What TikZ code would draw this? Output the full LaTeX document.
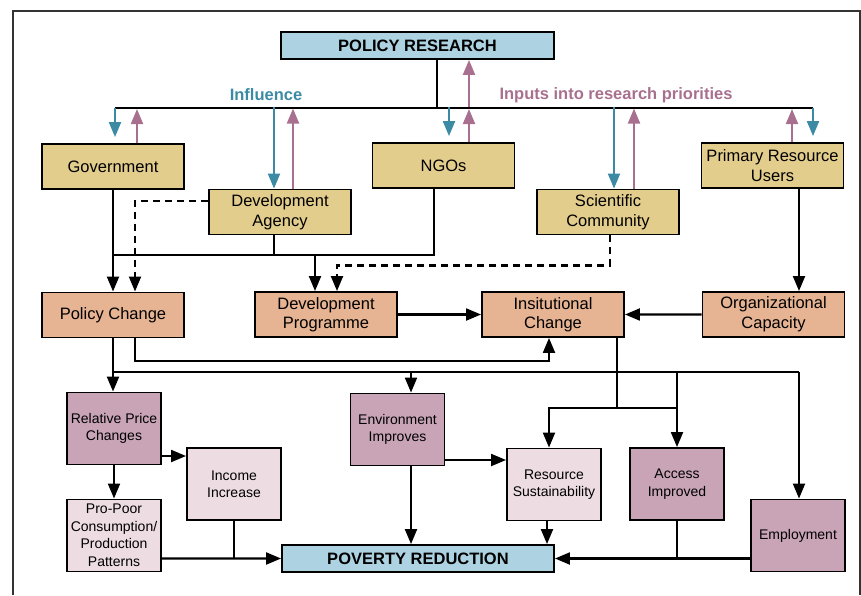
\documentclass[tikz,border=0pt]{standalone}
\usepackage{fontspec}
\setmainfont{Liberation Sans}
\usepackage{tikz}
\usetikzlibrary{arrows.meta,calc}
\definecolor{goalfill}{HTML}{ADD3E2}
\definecolor{actorfill}{HTML}{E3CD8C}
\definecolor{changefill}{HTML}{E6B393}
\definecolor{impactfill}{HTML}{C8A4B6}
\definecolor{outcomefill}{HTML}{EDDDE3}
\definecolor{inflcolor}{HTML}{3C8AA3}
\definecolor{inpcolor}{HTML}{A8708E}
\tikzstyle{actor} = [rectangle, draw, fill=actorfill, text centered, align=center, line width=1.9pt, minimum width=142pt, minimum height=45pt, font=\fontsize{16.5}{19.5}\selectfont]
\tikzstyle{change} = [actor, fill=changefill]
\tikzstyle{impact} = [rectangle, draw, fill=impactfill, text centered, align=center, line width=1.9pt, minimum width=94pt, minimum height=72pt, inner sep=1pt, font=\fontsize{14}{17.5}\selectfont]
\tikzstyle{outcome} = [impact, fill=outcomefill]
\tikzstyle{goal} = [rectangle, draw, fill=goalfill, text centered, line width=1.9pt, minimum width=273pt, minimum height=27pt, font=\fontsize{16.5}{19}\selectfont\bfseries]
\tikzstyle{heading} = [font=\fontsize{16.5}{19}\selectfont\bfseries]
\tikzstyle{link} = [line width=2.1pt]
\tikzstyle{connector} = [line width=2.1pt, -{Triangle[length=15pt,width=12pt]}]
\tikzstyle{maybe} = [connector, dash pattern=on 7pt off 5pt]
\tikzstyle{influence} = [connector, draw=inflcolor, fill=inflcolor]
\tikzstyle{inputs} = [connector, draw=inpcolor, fill=inpcolor]

\begin{document}
\begin{tikzpicture}[x=1pt, y=-1pt]
        \useasboundingbox (0,0) rectangle (861,595);
        \draw [line width=1.9pt, draw=black!80] (13,595) -- (13,11) -- (860,11) -- (860,595);

        \node (res) [goal] at (417.5,45.5) {POLICY RESEARCH};
        \node (gov) [actor] at (113,166.5) {Government};
        \node (agency) [actor] at (280,212) {Development\\Agency};
        \node (ngo) [actor] at (443.5,165.5) {NGOs};
        \node (sci) [actor] at (608,212) {Scientific\\Community};
        \node (users) [actor] at (772.5,165.5) {Primary Resource\\Users};
        \node (lblinfl) [heading, text=inflcolor] at (266,95) {Influence};
        \node (lblinp) [heading, text=inpcolor] at (616,95) {Inputs into research priorities};

        \node (polchg) [change, below of = gov, yshift=-120pt] {Policy Change};
        \node (devprog) [change] at (326,314.5) {Development\\Programme};
        \node (inst) [change] at (553,314.5) {Insitutional\\Change};
        \node (orgcap) [change, below of = users, yshift=-120.5pt, xshift=1pt] {Organizational\\Capacity};

        \node (price) [impact] at (114,428.5) {Relative Price\\Changes};
        \node (propoor) [outcome, below of = price, yshift=-78.5pt] {Pro-Poor\\Consumption/\\Production\\Patterns};
        \node (income) [outcome] at (234,484) {Income\\Increase};
        \node (env) [impact] at (397.5,429.5) {Environment\\Improves};
        \node (resource) [outcome] at (554,484.5) {Resource\\Sustainability};
        \node (access) [impact] at (677,484) {Access\\Improved};
        \node (employ) [impact] at (798,535.5) {Employment};
        \node (poverty) [goal, minimum width=272pt] at (418,558.5) {POVERTY REDUCTION};

        \coordinate (hub) at (437,108);
        \coordinate (barL) at (115,108);
        \coordinate (barR) at (813,108);
        \draw [link] ([xshift=19.5pt]res.south) -- (hub);
        \draw [link] (barL) -- (barR);
        \draw [influence] (barL) -- ([xshift=2pt,yshift=6pt]gov.north);
        \draw [inputs] ([xshift=24pt]gov.north) -- ([xshift=24pt,yshift=34pt]gov.north);
        \draw [influence] ([xshift=-6pt,yshift=82pt]agency.north) -- ([xshift=-6pt]agency.north);
        \draw [inputs] ([xshift=13pt]agency.north) -- ([xshift=13pt,yshift=80pt]agency.north);
        \draw [influence] ([xshift=5.5pt,yshift=35pt]ngo.north) -- ([xshift=5.5pt,yshift=6pt]ngo.north);
        \draw [inputs] ([xshift=25.5pt]ngo.north) -- ([xshift=25.5pt,yshift=33pt]ngo.north);
        \draw [inputs] ([xshift=25.5pt,yshift=35pt]ngo.north) -- ([xshift=51.5pt]res.south);
        \draw [influence] ([xshift=6pt,yshift=82pt]sci.north) -- ([xshift=6pt]sci.north);
        \draw [inputs] ([xshift=26pt]sci.north) -- ([xshift=26pt,yshift=80pt]sci.north);
        \draw [inputs] ([xshift=19.5pt]users.north) -- ([xshift=19.5pt,yshift=33pt]users.north);
        \draw [influence] (barR) -- ([xshift=40.5pt,yshift=6pt]users.north);

        \coordinate (fork) at (113,255);
        \draw [connector] (gov.south) -- (polchg.north);
        \draw [link] ([xshift=-6pt]agency.south) -- ++(0,21);
        \draw [link] ([xshift=-9.5pt]ngo.south) |- (fork);
        \draw [connector] ([xshift=-11pt,yshift=37pt]devprog.north) -- ([xshift=-11pt]devprog.north);
        \draw [maybe] ([yshift=11pt]agency.west) -| ([xshift=22pt]polchg.north);
        \draw [maybe] ([xshift=2pt]sci.south) -- ++(0,30) -| ([xshift=11pt]devprog.north);
        \draw [connector] (devprog.east) -- (inst.west);
        \draw [connector] (orgcap.west) -- (inst.east);
        \draw [connector] ([xshift=26.5pt]users.south) -- ([xshift=25.5pt]orgcap.north);
        \draw [connector] ([xshift=22pt]polchg.south) -- ++(0,23) -| ([xshift=-4pt]inst.south);

        \coordinate (spread) at (799,372);
        \coordinate (merge) at (617,408);
        \draw [link] (polchg.south |- spread) -- (spread);
        \draw [connector] (polchg.south) -- (polchg.south |- price.north);
        \draw [connector] ([xshift=13.5pt,yshift=21pt]env.north) -- ([xshift=13.5pt]env.north);
        \draw [connector] (spread) -- (spread |- employ.north);
        \draw [connector] (access.north |- spread) -- (access.north);
        \draw [link] ([xshift=64pt]inst.south) -- (merge);
        \draw [link] (merge) -- (merge -| access.north);
        \draw [connector] (merge) -| ([xshift=-5pt]resource.north);

        \draw [connector] ([yshift=-27.5pt]price.east) -- ([yshift=28pt]income.west);
        \draw [connector] (price.south) -- (propoor.north);
        \draw [connector] ([yshift=-23pt]propoor.east) -- (poverty.west);
        \draw [link] (income.south) -- (income.south |- poverty.west);
        \draw [connector] ([xshift=13.5pt]env.south) -- ([xshift=-7pt]poverty.north);
        \draw [connector] ([yshift=-30.5pt]env.east) -- ([yshift=24.5pt]resource.west);
        \draw [connector] ([xshift=-7pt]resource.south) -- ([xshift=129pt]poverty.north);
        \draw [link] (access.south) -- (access.south |- poverty.east);
        \draw [connector] ([yshift=-23pt]employ.west) -- (poverty.east);
\end{tikzpicture}
\end{document}
